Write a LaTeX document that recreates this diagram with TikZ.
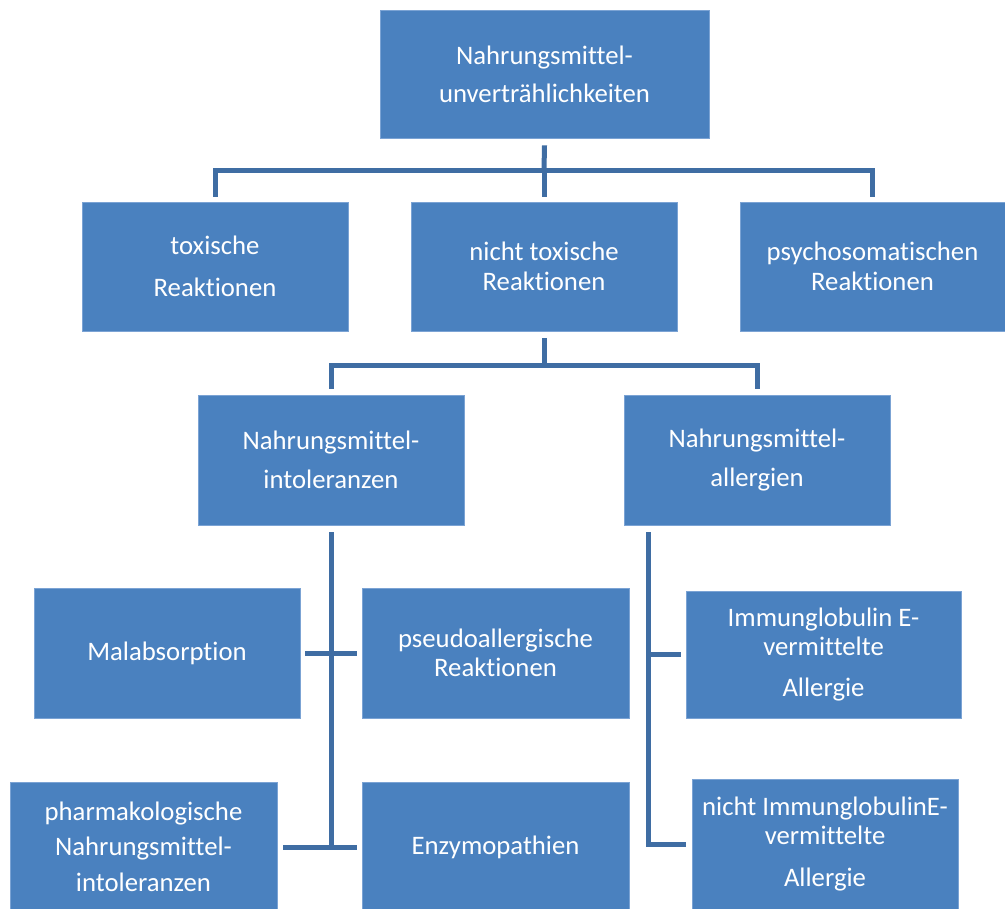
\documentclass[tikz,border=0pt]{standalone}
\usepackage{fontspec}
\setmainfont{Carlito}[Ligatures=NoCommon]
\usepackage{tikz}
\usepackage{xcolor}
\definecolor{boxfill}{HTML}{4A81BF}
\definecolor{boxline}{HTML}{7BA3D4}
\definecolor{linkcol}{HTML}{3F6DA3}
\newcommand{\px}{0.025cm}

\begin{document}
\begin{tikzpicture}[
    x=\px, y=-\px,
    every node/.style = {align=center},
    box/.style = {draw=boxline, line width=0.5pt, fill=boxfill, text=white,
      font=\fontsize{19}{21}\selectfont, inner sep=0pt,
      minimum width=266*\px, minimum height=129*\px},
    link/.style = {draw=linkcol, line width=5*\px}
  ]

  \useasboundingbox (0,0) rectangle (1005,908);

  \node[box, minimum width=329*\px, minimum height=128*\px] (top) at (544.5,74) {Nahrungsmittel-\\[6pt]unvertrählichkeiten};
  \node[box] (tox) at (215,266.5) {toxische\\[8.5pt]Reaktionen};
  \node[box] (nontox) at (544,266.5) {nicht toxische\\Reaktionen};
  \node[box, minimum width=265*\px] (psycho) at (872.5,266.5) {psychosomatischen\\Reaktionen};
  \node[box, minimum height=130*\px] (intol) at (331,460) {Nahrungsmittel-\\[7pt]intoleranzen};
  \node[box, minimum height=130*\px] (allerg) at (757,460) {Nahrungsmittel-\\[7pt]allergien};
  \node[box, minimum height=130*\px] (malab) at (167,653) {Malabsorption};
  \node[box, minimum width=267*\px, minimum height=130*\px] (pseudo) at (495.5,653) {pseudoallergische\\Reaktionen};
  \node[box, minimum width=267*\px, minimum height=130*\px] (pharma) at (143.5,847) {pharmakologische\\[3.5pt]Nahrungsmittel-\\[5pt]intoleranzen};
  \node[box, minimum width=267*\px, minimum height=130*\px] (enzym) at (495.5,847) {Enzymopathien};
  \node[box, minimum width=275*\px, minimum height=127*\px] (immun) at (823.5,654.5) {Immunglobulin E-\\vermittelte\\[8pt]Allergie};
  \node[box, minimum height=130*\px] (nimmun) at (825,844) {nicht ImmunglobulinE-\\vermittelte\\[9pt]Allergie};

  \coordinate (j1) at (544,170);
  \coordinate (j2) at (544,365);
  \coordinate (j4) at (331,847);
  \coordinate (j7) at (648,532);

  % first level
  \draw[link] ([yshift=-7*\px]top.south) -- (j1);
  \draw[link] ([yshift=5*\px]tox.north) |- (j1) -| ([yshift=5*\px]psycho.north);
  \draw[link] (j1) -- ([yshift=5*\px]nontox.north);

  % second level
  \draw[link] ([yshift=-7*\px]nontox.south) -- (j2);
  \draw[link] ([yshift=6*\px]intol.north) |- (j2) -| ([yshift=6*\px]allerg.north);

  % intolerances
  \draw[link] ([yshift=-7*\px]intol.south) -- (j4);
  \draw[link] ([xshift=5*\px]malab.east) -- ([xshift=-5*\px]pseudo.west);
  \draw[link] ([xshift=6*\px]pharma.east) -- ([xshift=-5*\px]enzym.west);

  % allergies
  \draw[link] (j7) |- ([xshift=-6*\px]nimmun.west);
  \draw[link] (j7 |- immun.west) -- ([xshift=-5*\px]immun.west);

\end{tikzpicture}
\end{document}
